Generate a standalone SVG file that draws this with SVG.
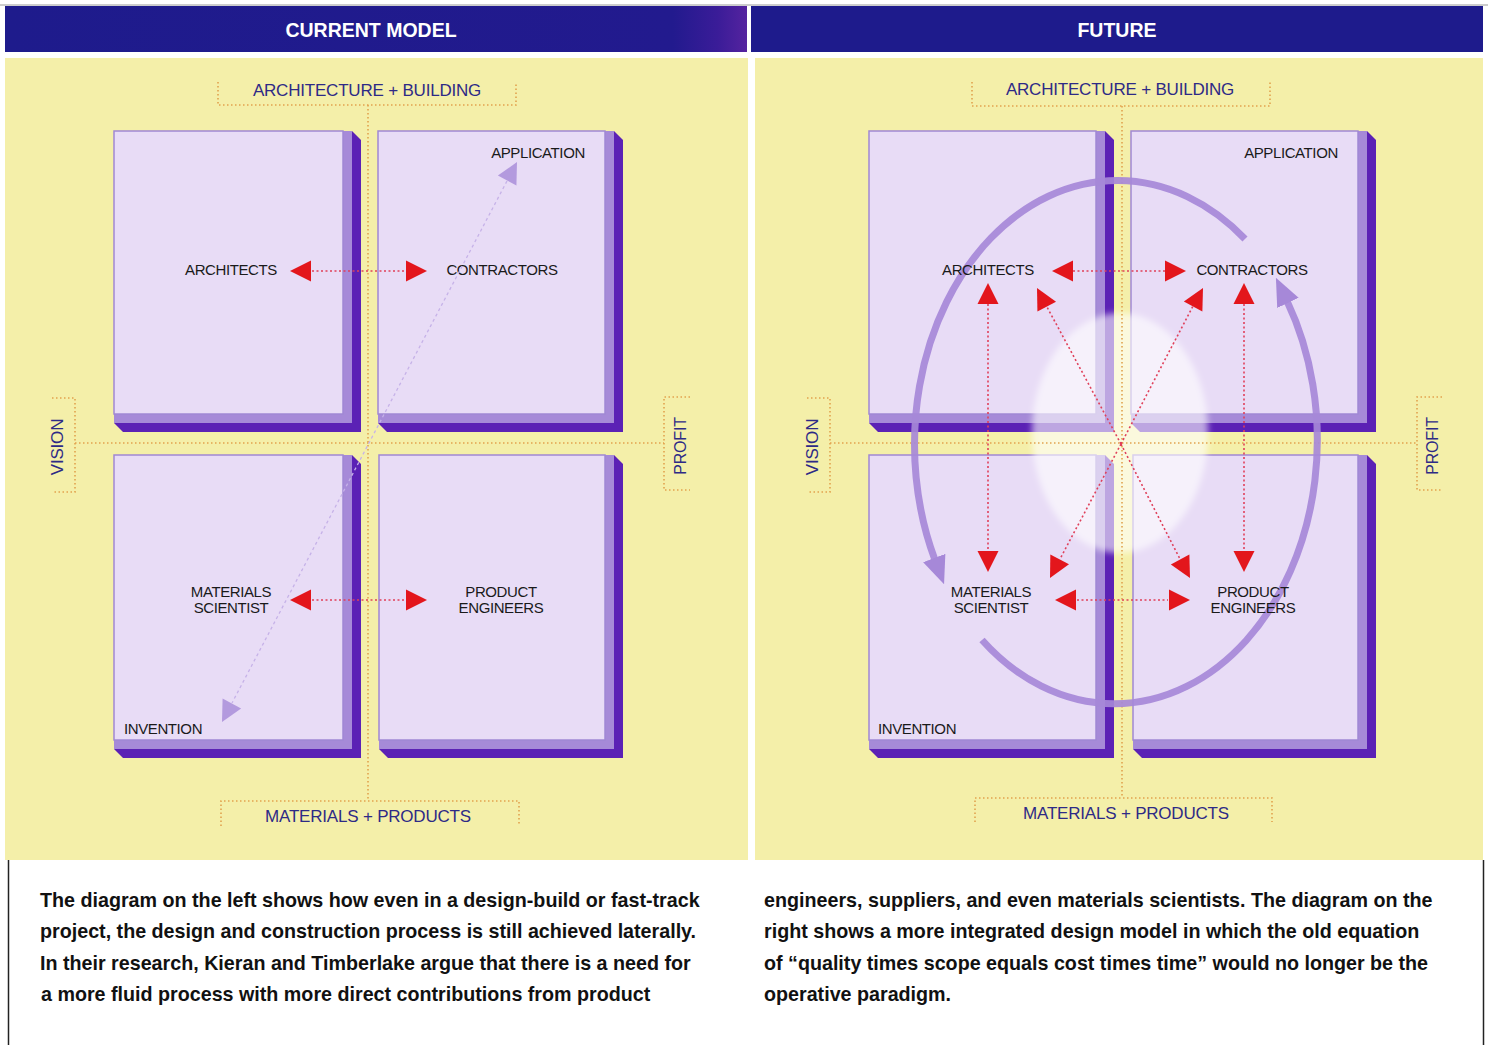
<svg xmlns="http://www.w3.org/2000/svg" xmlns:xlink="http://www.w3.org/1999/xlink" width="1488" height="1045" viewBox="0 0 1488 1045">
<style>
.hdr{font-family:"Liberation Sans",Arial,sans-serif;font-weight:bold;font-size:19.5px;fill:#ffffff;text-anchor:middle}
.axis{font-family:"Liberation Sans",Arial,sans-serif;font-size:17px;fill:#2e2a86;text-anchor:middle;letter-spacing:-0.2px}
.lbl{font-family:"Liberation Sans",Arial,sans-serif;font-size:15px;fill:#1a1a1a;text-anchor:middle;letter-spacing:-0.4px}
.lbll{font-family:"Liberation Sans",Arial,sans-serif;font-size:15px;fill:#1a1a1a;letter-spacing:-0.4px}
.cap{font-family:"Liberation Sans",Arial,sans-serif;font-weight:bold;font-size:19.7px;fill:#111111}
.dot{fill:none;stroke:#e2a24e;stroke-width:1.6;stroke-dasharray:1.5 2.5}
.rdot{fill:none;stroke:#e0405a;stroke-width:1.6;stroke-dasharray:2 2.5}
.pdot{fill:none;stroke:#c6b2e8;stroke-width:1.3;stroke-dasharray:3 3}
.dk{fill:#5b21b5}
.md{fill:#a68ad8}
.fc{fill:#e8dcf6;stroke:#a088d4;stroke-width:1.5}
.red{fill:#e3161c}
.lav{fill:#b39ade}
.arc{fill:none;stroke:#a688d8;stroke-width:7;stroke-opacity:0.92}
</style>
<defs>
<linearGradient id="hgL" x1="0" y1="0" x2="1" y2="0">
<stop offset="0" stop-color="#1e1b8c"/>
<stop offset="0.9" stop-color="#221a8e"/>
<stop offset="0.96" stop-color="#3a1c98"/>
<stop offset="1" stop-color="#55239f"/>
</linearGradient>
<path id="tri" d="M0,0 L-21,-10.5 L-21,10.5 Z"/>
<marker id="arcHead" markerUnits="userSpaceOnUse" markerWidth="28" markerHeight="24" viewBox="0 0 26 22" refX="2" refY="11" orient="auto">
<path d="M0,0 L26,11 L0,22 Z" fill="#a688d8"/>
</marker>
<filter id="soft" x="-20%" y="-20%" width="140%" height="140%">
<feGaussianBlur stdDeviation="3"/>
</filter>
</defs>

<rect x="0" y="0" width="1488" height="1045" fill="#ffffff"/>
<!-- page frame -->
<line x1="0" y1="5" x2="1488" y2="5" stroke="#9a9a9a" stroke-width="1"/>
<line x1="8.5" y1="860" x2="8.5" y2="1045" stroke="#222" stroke-width="1.5"/>
<line x1="1483.5" y1="860" x2="1483.5" y2="1045" stroke="#222" stroke-width="1.5"/>

<!-- headers -->
<rect x="5" y="6" width="742" height="46" fill="url(#hgL)"/>
<rect x="751" y="6" width="732" height="46" fill="#1e1b8c"/>
<text class="hdr" x="371" y="37">CURRENT MODEL</text>
<text class="hdr" x="1117" y="37">FUTURE</text>

<!-- panels -->
<rect x="5" y="58" width="743" height="802" fill="#f4efa9"/>
<rect x="755" y="58" width="728" height="802" fill="#f4efa9"/>

<!-- LEFT PANEL axes -->
<g id="left-axes">
<path class="dot" d="M218,82 V105 H516 V82"/>
<path class="dot" d="M221,826 V801 H519 V826"/>
<path class="dot" d="M52,398 H75 V492 H52"/>
<path class="dot" d="M690,397 H664 V490 H690"/>
<path class="dot" d="M368,105 V801"/>
<path class="dot" d="M75,443 H664"/>
<text class="axis" x="367" y="96">ARCHITECTURE + BUILDING</text>
<text class="axis" x="368" y="822">MATERIALS + PRODUCTS</text>
<text class="axis" transform="translate(63,447) rotate(-90)">VISION</text>
<text class="axis" style="font-size:16px" transform="translate(685.5,446) rotate(-90)">PROFIT</text>
</g>

<!-- LEFT PANEL nodes -->
<g id="left-architects">
<path class="dk" d="M114,414 L114,423 L123,432 L361,432 L361,140 L352,131 L343,131 Z"/>
<path class="md" d="M114,414 L114,423 L352,423 L352,131 L343,131 Z"/>
<rect class="fc" x="114" y="131" width="229" height="283"/>
<text class="lbl" x="231" y="274.5">ARCHITECTS</text>
</g>
<g id="left-contractors">
<path class="dk" d="M378,414 L378,423 L387,432 L623,432 L623,140 L614,131 L605,131 Z"/>
<path class="md" d="M378,414 L378,423 L614,423 L614,131 L605,131 Z"/>
<rect class="fc" x="378" y="131" width="227" height="283"/>
<text class="lbl" x="538" y="157.5">APPLICATION</text>
<text class="lbl" x="502" y="274.5">CONTRACTORS</text>
</g>
<g id="left-materials-scientist">
<path class="dk" d="M114,740 L114,749 L123,758 L361,758 L361,464 L352,455 L343,455 Z"/>
<path class="md" d="M114,740 L114,749 L352,749 L352,455 L343,455 Z"/>
<rect class="fc" x="114" y="455" width="229" height="285"/>
<text class="lbl" x="231" y="597">MATERIALS</text>
<text class="lbl" x="231" y="613">SCIENTIST</text>
<text class="lbll" x="124" y="733.5">INVENTION</text>
</g>
<g id="left-product-engineers">
<path class="dk" d="M379,740 L379,749 L388,758 L623,758 L623,464 L614,455 L605,455 Z"/>
<path class="md" d="M379,740 L379,749 L614,749 L614,455 L605,455 Z"/>
<rect class="fc" x="379" y="455" width="226" height="285"/>
<text class="lbl" x="501" y="597">PRODUCT</text>
<text class="lbl" x="501" y="613">ENGINEERS</text>
</g>

<!-- LEFT PANEL connectors -->
<g id="left-connectors">
<path class="pdot" d="M507,181 L232,703"/>
<use href="#tri" class="lav" transform="translate(517,162) rotate(-62)"/>
<use href="#tri" class="lav" transform="translate(222,722) rotate(118)"/>
<path class="rdot" d="M312,271 H405"/>
<use href="#tri" class="red" transform="translate(290,271) rotate(180)"/>
<use href="#tri" class="red" transform="translate(427,271)"/>
<path class="rdot" d="M312,600 H405"/>
<use href="#tri" class="red" transform="translate(290,600) rotate(180)"/>
<use href="#tri" class="red" transform="translate(427,600)"/>
</g>

<!-- RIGHT PANEL nodes -->
<g id="right-architects">
<path class="dk" d="M869,414 L869,423 L878,432 L1114,432 L1114,140 L1105,131 L1096,131 Z"/>
<path class="md" d="M869,414 L869,423 L1105,423 L1105,131 L1096,131 Z"/>
<rect class="fc" x="869" y="131" width="227" height="283"/>
</g>
<g id="right-contractors">
<path class="dk" d="M1131,414 L1131,423 L1140,432 L1376,432 L1376,140 L1367,131 L1358,131 Z"/>
<path class="md" d="M1131,414 L1131,423 L1367,423 L1367,131 L1358,131 Z"/>
<rect class="fc" x="1131" y="131" width="227" height="283"/>
</g>
<g id="right-materials-scientist">
<path class="dk" d="M869,740 L869,749 L878,758 L1114,758 L1114,464 L1105,455 L1096,455 Z"/>
<path class="md" d="M869,740 L869,749 L1105,749 L1105,455 L1096,455 Z"/>
<rect class="fc" x="869" y="455" width="227" height="285"/>
</g>
<g id="right-product-engineers">
<path class="dk" d="M1133,740 L1133,749 L1142,758 L1376,758 L1376,464 L1367,455 L1358,455 Z"/>
<path class="md" d="M1133,740 L1133,749 L1367,749 L1367,455 L1358,455 Z"/>
<rect class="fc" x="1133" y="455" width="225" height="285"/>
</g>

<!-- glow -->
<ellipse cx="1120" cy="433" rx="88" ry="120" fill="#ffffff" fill-opacity="0.6" filter="url(#soft)"/>

<!-- RIGHT PANEL axes -->
<g id="right-axes">
<path class="dot" d="M972,82 V106 H1270 V82"/>
<path class="dot" d="M975,822 V798 H1272 V822"/>
<path class="dot" d="M807,398 H830 V492 H807"/>
<path class="dot" d="M1442,397 H1417 V490 H1442"/>
<path class="dot" d="M1122,106 V798"/>
<path class="dot" d="M830,443 H1417"/>
<text class="axis" x="1120" y="95">ARCHITECTURE + BUILDING</text>
<text class="axis" x="1126" y="819">MATERIALS + PRODUCTS</text>
<text class="axis" transform="translate(818,447) rotate(-90)">VISION</text>
<text class="axis" style="font-size:16px" transform="translate(1437.5,446) rotate(-90)">PROFIT</text>
</g>

<!-- RIGHT PANEL connectors -->
<g id="right-connectors">
<path class="arc" d="M1245,239 A203,264 0 0,0 935,560" marker-end="url(#arcHead)"/>
<path class="arc" d="M982,640 A203,264 0 0,0 1287,301" marker-end="url(#arcHead)"/>
<path class="rdot" d="M1073,271 H1165"/>
<use href="#tri" class="red" transform="translate(1052,271) rotate(180)"/>
<use href="#tri" class="red" transform="translate(1186,271)"/>
<path class="rdot" d="M1077,600 H1168"/>
<use href="#tri" class="red" transform="translate(1055,600) rotate(180)"/>
<use href="#tri" class="red" transform="translate(1190,600)"/>
<path class="rdot" d="M988,304 V551"/>
<use href="#tri" class="red" transform="translate(988,283) rotate(-90)"/>
<use href="#tri" class="red" transform="translate(988,572) rotate(90)"/>
<path class="rdot" d="M1244,304 V551"/>
<use href="#tri" class="red" transform="translate(1244,283) rotate(-90)"/>
<use href="#tri" class="red" transform="translate(1244,572) rotate(90)"/>
<path class="rdot" d="M1121,444 L1047,307"/>
<use href="#tri" class="red" transform="translate(1037,288) rotate(-117.6)"/>
<path class="rdot" d="M1121,444 L1193,306"/>
<use href="#tri" class="red" transform="translate(1203,288) rotate(-61.9)"/>
<path class="rdot" d="M1121,444 L1060,559"/>
<use href="#tri" class="red" transform="translate(1050,578) rotate(117.4)"/>
<path class="rdot" d="M1121,444 L1180,559"/>
<use href="#tri" class="red" transform="translate(1190,578) rotate(61.9)"/>
</g>

<!-- RIGHT PANEL labels -->
<g id="right-labels">
<text class="lbl" x="988" y="274.5">ARCHITECTS</text>
<text class="lbl" x="1291" y="157.5">APPLICATION</text>
<text class="lbl" x="1252" y="274.5">CONTRACTORS</text>
<text class="lbl" x="991" y="597">MATERIALS</text>
<text class="lbl" x="991" y="613">SCIENTIST</text>
<text class="lbl" x="1253" y="597">PRODUCT</text>
<text class="lbl" x="1253" y="613">ENGINEERS</text>
<text class="lbll" x="878" y="733.5">INVENTION</text>
</g>

<!-- captions -->
<g id="caption-left">
<text class="cap" x="40" y="907">The diagram on the left shows how even in a design-build or fast-track</text>
<text class="cap" x="40" y="938">project, the design and construction process is still achieved laterally.</text>
<text class="cap" x="40" y="970">In their research, Kieran and Timberlake argue that there is a need for</text>
<text class="cap" x="41" y="1001">a more fluid process with more direct contributions from product</text>
</g>
<g id="caption-right">
<text class="cap" x="764" y="907">engineers, suppliers, and even materials scientists. The diagram on the</text>
<text class="cap" x="764" y="938">right shows a more integrated design model in which the old equation</text>
<text class="cap" x="764" y="970">of “quality times scope equals cost times time” would no longer be the</text>
<text class="cap" x="764" y="1001">operative paradigm.</text>
</g>
</svg>
